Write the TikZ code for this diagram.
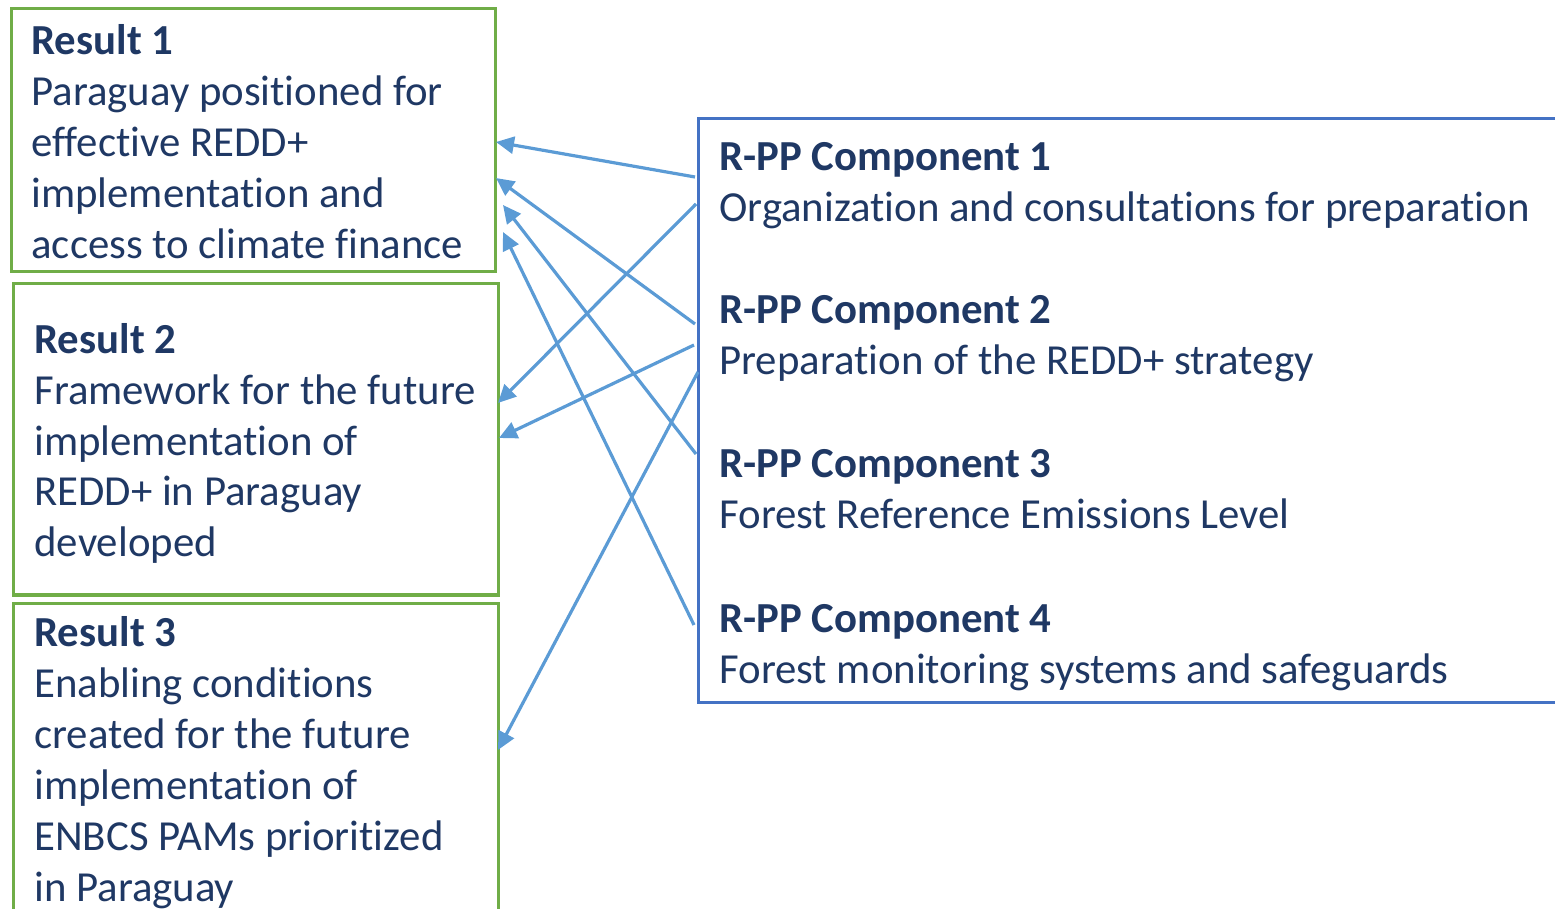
\documentclass[tikz,border=0pt]{standalone}
\usepackage{fontspec}
\setmainfont{Carlito}[Ligatures=NoCommon]
\usetikzlibrary{arrows.meta}
\definecolor{txt}{HTML}{1F3864}
\definecolor{grn}{HTML}{70AD47}
\definecolor{bbl}{HTML}{4472C4}
\definecolor{arr}{HTML}{5B9BD5}
\begin{document}
\begin{tikzpicture}[x=0.5pt,y=-0.5pt,
  resbox/.style={draw=grn, line width=1.5pt, inner sep=0pt},
  compbox/.style={draw=bbl, line width=1.5pt, inner sep=0pt},
  lbl/.style={anchor=base west, inner sep=0pt, text=txt, font=\fontsize{21.4pt}{25.5pt}\selectfont, align=left},
  link/.style={draw=arr, line width=1.6pt, -{Triangle[length=9pt,width=8.5pt]}}]
\useasboundingbox (0,0) rectangle (1555,909);
\clip (0,0) rectangle (1555,909);
% boxes
\node[resbox, minimum width=242pt, minimum height=131.5pt] (r1) at (253,140.5) {};
\node[resbox, minimum width=242.5pt, minimum height=155.5pt] (r2) at (255.5,439.5) {};
\node[resbox, minimum width=242.5pt, minimum height=173.5pt] (r3) at (255.5,776.5) {};
\node[compbox, minimum width=451pt, minimum height=291.5pt] (comp) at (1149,410.5) {};
% texts (anchored at the baseline of the last line)
\node[lbl] (t1) at (31,259) {\textbf{Result 1}\\Paraguay positioned for\\effective REDD+\\implementation and\\access to climate finance};
\node[lbl] (t2) at (34,557) {\textbf{Result 2}\\Framework for the future\\implementation of\\REDD+ in Paraguay\\developed};
\node[lbl] (t3) at (34,901) {\textbf{Result 3}\\Enabling conditions\\created for the future\\implementation of\\ENBCS PAMs prioritized\\in Paraguay};
\node[lbl] (c1) at (719,222) {\textbf{R-PP Component 1}\\Organization and consultations for preparation};
\node[lbl] (c2) at (719,375) {\textbf{R-PP Component 2}\\Preparation of the REDD+ strategy};
\node[lbl] (c3) at (719,529) {\textbf{R-PP Component 3}\\Forest Reference Emissions Level};
\node[lbl] (c4) at (719,683) {\textbf{R-PP Component 4}\\Forest monitoring systems and safeguards};
% connector ends
\coordinate (s1) at (695,177); \coordinate (e1) at (496,142);
\coordinate (s2) at (695,324); \coordinate (e2) at (496,178);
\coordinate (s3) at (696,454); \coordinate (e3) at (503,205);
\coordinate (s4) at (694,625); \coordinate (e4) at (503,232);
\coordinate (s5) at (696,204); \coordinate (e5) at (498,403);
\coordinate (s6) at (694,345); \coordinate (e6) at (499,438);
\coordinate (s7) at (698,372); \coordinate (e7) at (498,750);
\foreach \i in {1,...,7} {\draw[link] (s\i) -- (e\i);}
\end{tikzpicture}
\end{document}
